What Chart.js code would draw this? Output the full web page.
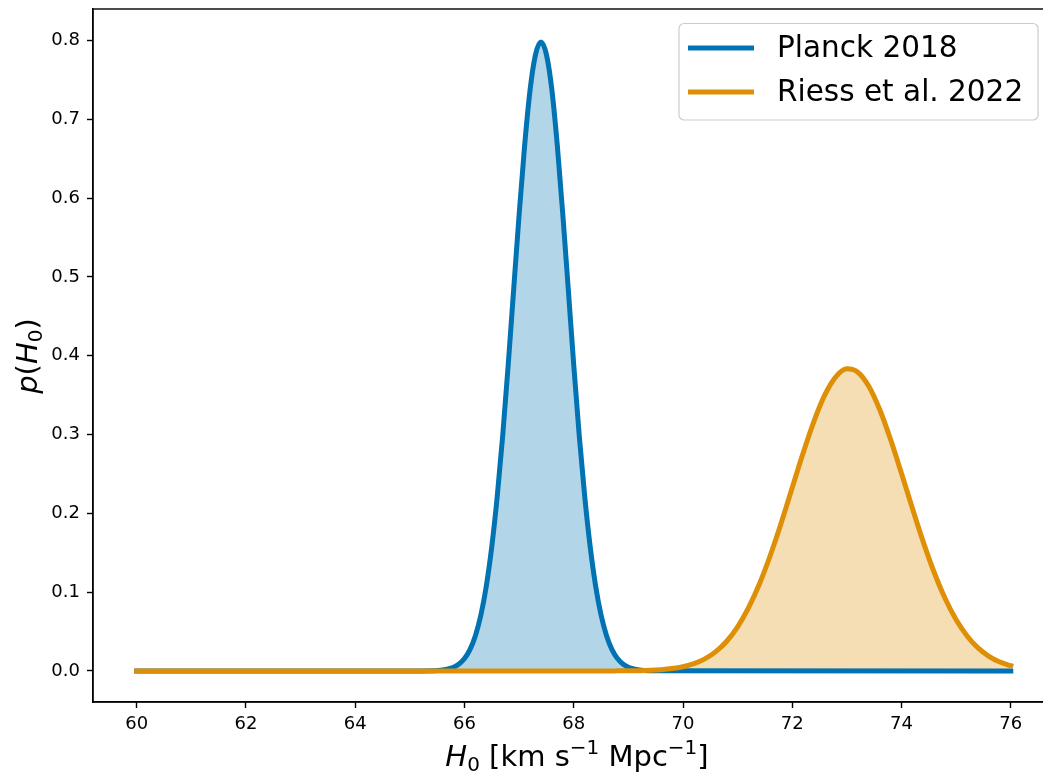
<!DOCTYPE html>
<html>
<head>
<meta charset="utf-8">
<script src="https://cdn.jsdelivr.net/npm/chart.js@4.4.1/dist/chart.umd.min.js"></script>
<style>
    html, body { margin: 0; padding: 0; background: #fff; overflow: hidden; }
    #wrap { width: 1080px; height: 773px; }
</style>
</head>
<body>
<div id="wrap"><canvas id="h0Chart" width="1080" height="773"></canvas></div>
<script>
// Planck 2018 posterior
const planckH0 = [60, 65.0, 65.4, 65.5, 65.6, 65.7, 65.8, 65.9, 66.0, 66.1, 66.2, 66.3,
    66.4, 66.5, 66.6, 66.7, 66.8, 66.9, 67.0, 67.1, 67.2, 67.3, 67.4, 67.5, 67.6, 67.7,
    67.8, 67.9, 68.0, 68.1, 68.2, 68.3, 68.4, 68.5, 68.6, 68.7, 68.8, 68.9, 69.0, 69.1,
    69.2, 69.3, 69.4, 76];
const planckP = [0, 0, 0.0003, 0.0006, 0.0012, 0.0025, 0.0048, 0.0089, 0.0158, 0.0271,
    0.0448, 0.0709, 0.108, 0.158, 0.222, 0.299, 0.388, 0.484, 0.579, 0.666, 0.737, 0.782,
    0.798, 0.782, 0.737, 0.666, 0.579, 0.484, 0.388, 0.299, 0.222, 0.158, 0.108, 0.0709,
    0.0448, 0.0271, 0.0158, 0.0089, 0.0048, 0.0025, 0.0012, 0.0006, 0.0003, 0];

// Riess et al. 2022 posterior
const riessH0 = [60, 68.0, 68.2, 68.4, 68.6, 68.8, 69.0, 69.2, 69.4, 69.6, 69.8, 70.0,
    70.2, 70.4, 70.6, 70.8, 71.0, 71.2, 71.4, 71.6, 71.8, 72.0, 72.2, 72.4, 72.6, 72.8,
    73.0, 73.2, 73.4, 73.6, 73.8, 74.0, 74.2, 74.4, 74.6, 74.8, 75.0, 75.2, 75.4, 75.6,
    75.8, 76.0];
const riessP = [0, 0, 0, 0, 0.00004, 0.0001, 0.0002, 0.0004, 0.0008, 0.0016, 0.0030,
    0.0054, 0.0092, 0.0153, 0.0245, 0.0377, 0.0560, 0.0802, 0.1106, 0.1471, 0.1884,
    0.2327, 0.2768, 0.3174, 0.3508, 0.3735, 0.3833, 0.3791, 0.3613, 0.3318, 0.2937,
    0.2505, 0.2060, 0.1632, 0.1246, 0.0916, 0.0649, 0.0444, 0.0292, 0.0185, 0.0113, 0.0067];

const xTicks = [60, 62, 64, 66, 68, 70, 72, 74, 76];
const yTicks = [0.0, 0.1, 0.2, 0.3, 0.4, 0.5, 0.6, 0.7, 0.8];

const BLUE = '#0173b2';
const ORANGE = '#de8f05';
const FONT = "'DejaVu Sans'";

// draw a run of text pieces (for sub/superscripts), centred on cx
function drawPieces(ctx, pieces, cx, baseY) {
    let total = 0;
    pieces.forEach(p => {
        ctx.font = p.font;
        p.w = ctx.measureText(p.t).width;
        total += p.w;
    });
    let x = cx - total / 2;
    ctx.textAlign = 'left';
    ctx.textBaseline = 'alphabetic';
    pieces.forEach(p => {
        ctx.font = p.font;
        ctx.fillText(p.t, x, baseY + (p.dy || 0));
        x += p.w;
    });
}

const decorations = {
    id: 'decorations',
    afterDraw(chart) {
        const ctx = chart.ctx;
        const area = chart.chartArea;
        ctx.save();

        // frame (top and right spines)
        ctx.strokeStyle = '#000';
        ctx.lineWidth = 1.4;
        ctx.strokeRect(area.left, area.top, area.right - area.left, area.bottom - area.top);

        ctx.fillStyle = '#000';
        const big = '29px ' + FONT;
        const bigIt = 'italic 29px ' + FONT;
        const small = '20px ' + FONT;

        // x axis title
        drawPieces(ctx, [
            { t: 'H', font: bigIt },
            { t: '0', font: small, dy: 5 },
            { t: ' [km s', font: big },
            { t: '\u22121', font: small, dy: -12 },
            { t: ' Mpc', font: big },
            { t: '\u22121', font: small, dy: -12 },
            { t: ']', font: big }
        ], 577, 766);

        // y axis title
        ctx.save();
        ctx.translate(37, 356);
        ctx.rotate(-Math.PI / 2);
        drawPieces(ctx, [
            { t: 'p', font: bigIt },
            { t: '(', font: big },
            { t: 'H', font: bigIt },
            { t: '0', font: small, dy: 5 },
            { t: ')', font: big }
        ], 0, 0);
        ctx.restore();

        // legend
        const bx = 679, by = 23.5, bw = 359, bh = 96.5;
        ctx.beginPath();
        ctx.roundRect(bx, by, bw, bh, 5);
        ctx.fillStyle = 'rgba(255,255,255,0.8)';
        ctx.fill();
        ctx.strokeStyle = '#cccccc';
        ctx.lineWidth = 1.2;
        ctx.stroke();

        const rows = [48, 92];
        chart.data.datasets.forEach((ds, i) => {
            const y = rows[i];
            ctx.beginPath();
            ctx.moveTo(688, y);
            ctx.lineTo(754, y);
            ctx.strokeStyle = ds.borderColor;
            ctx.lineWidth = 5;
            ctx.lineCap = 'butt';
            ctx.stroke();
            ctx.fillStyle = '#000';
            ctx.font = '29.5px ' + FONT;
            ctx.textAlign = 'left';
            ctx.textBaseline = 'middle';
            ctx.fillText(ds.label, 777, y + 1);
        });

        ctx.restore();
    }
};

const toPoints = (xs, ys) => xs.map((x, i) => ({ x, y: ys[i] }));

// keep tick-label overflow from pushing the plot area around
const noPad = s => { s.paddingTop = 0; s.paddingBottom = 0; s.paddingLeft = 0; s.paddingRight = 0; };

new Chart(document.getElementById('h0Chart'), {
    type: 'line',
    data: {
        datasets: [
            {
                label: 'Planck 2018',
                data: toPoints(planckH0, planckP),
                borderColor: BLUE,
                backgroundColor: 'rgba(1, 115, 178, 0.3)',
                borderWidth: 5,
                fill: 'origin',
                pointRadius: 0,
                cubicInterpolationMode: 'monotone',
                borderCapStyle: 'square',
                borderJoinStyle: 'round',
                order: 1
            },
            {
                label: 'Riess et al. 2022',
                data: toPoints(riessH0, riessP),
                borderColor: ORANGE,
                backgroundColor: 'rgba(222, 143, 5, 0.3)',
                borderWidth: 5,
                fill: 'origin',
                pointRadius: 0,
                cubicInterpolationMode: 'monotone',
                borderCapStyle: 'square',
                borderJoinStyle: 'round',
                order: 0
            }
        ]
    },
    options: {
        responsive: false,
        animation: false,
        devicePixelRatio: 1,
        layout: { padding: { top: 9, right: 25.5, bottom: 0, left: 0 } },
        plugins: {
            legend: { display: false },
            tooltip: { enabled: false },
            filler: { drawTime: 'beforeDatasetsDraw' }
        },
        scales: {
            x: {
                type: 'linear',
                min: 59.2,
                max: 76.8,
                afterBuildTicks: s => { s.ticks = xTicks.map(v => ({ value: v })); },
                afterFit: s => { s.height = 71; noPad(s); },
                ticks: {
                    font: { family: 'DejaVu Sans', size: 18 },
                    color: '#000',
                    padding: 6,
                    maxRotation: 0,
                    autoSkip: false,
                    callback: v => String(v)
                },
                grid: { drawOnChartArea: false, drawTicks: true, tickLength: 6, tickWidth: 1.4, tickColor: '#000' },
                border: { display: true, color: '#000', width: 1.4 }
            },
            y: {
                min: -0.0394,
                max: 0.8399,
                afterBuildTicks: s => { s.ticks = yTicks.map(v => ({ value: v })); },
                afterFit: s => { s.width = 93; noPad(s); },
                ticks: {
                    font: { family: 'DejaVu Sans', size: 18 },
                    color: '#000',
                    padding: 7,
                    autoSkip: false,
                    callback: v => v.toFixed(1)
                },
                grid: { drawOnChartArea: false, drawTicks: true, tickLength: 6, tickWidth: 1.4, tickColor: '#000' },
                border: { display: true, color: '#000', width: 1.4 }
            }
        }
    },
    plugins: [decorations]
});
</script>
</body>
</html>
